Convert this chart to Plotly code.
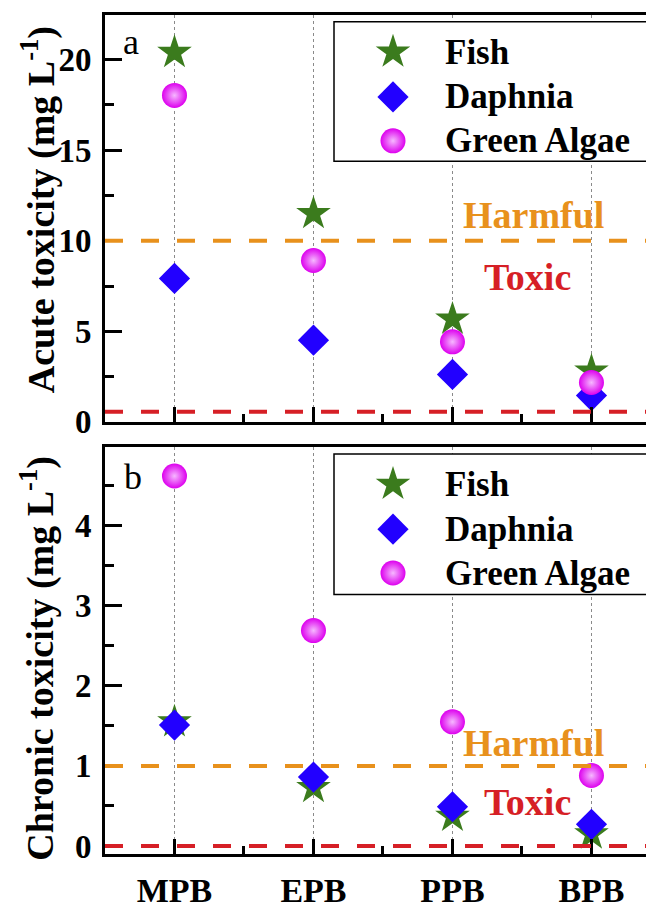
import plotly.graph_objects as go

# ---------------- data ----------------
CATEGORIES = ["MPB", "EPB", "PPB", "BPB"]
SERIES = ["Fish", "Daphnia", "Green Algae"]

FISH_ACUTE = [20.4, 11.5, 5.67, 2.8]
DAPHNIA_ACUTE = [7.92, 4.51, 2.62, 1.45]
ALGAE_ACUTE = [18.03, 8.91, 4.42, 2.17]

FISH_CHRONIC = [1.55, 0.73, 0.37, 0.15]
DAPHNIA_CHRONIC = [1.51, 0.86, 0.49, 0.27]
ALGAE_CHRONIC = [4.62, 2.69, 1.55, 0.88]

ACUTE_HARMFUL = 10.0
ACUTE_TOXIC = 0.55
CHRONIC_HARMFUL = 1.0
CHRONIC_TOXIC = 0.0

ACUTE_TICKS = [0, 5, 10, 15, 20]
CHRONIC_TICKS = [0, 1, 2, 3, 4]

# ---------------- styles ----------------
FONT = "Liberation Serif"
STYLE = {
    "Fish": dict(symbol="star", size=26, color="#3b7b1d"),
    "Daphnia": dict(symbol="diamond", size=24, color="#2200ff"),
    "Green Algae": dict(symbol="circle", size=25, color="#dd00ee"),
}
ORANGE = "#e8911c"
RED = "#d61f26"

# page is offset by the browser's default 8px body margin
OFF = 8
PAGE_W, PAGE_H = 654, 909
W, H = PAGE_W - OFF, PAGE_H - OFF
PLOT_L, PLOT_T, PLOT_B = 105, 15, 875          # page pixels
ML, MR, MT, MB = PLOT_L - OFF, 0, PLOT_T - OFF, PAGE_H - PLOT_B
PH = H - MT - MB
TOP_DOMAIN = [(PLOT_B - 432) / PH, 1.0]
BOT_DOMAIN = [0.0, (PLOT_B - 458) / PH]

x = list(range(len(CATEGORIES)))
fig = go.Figure()


def marker(name):
    s = STYLE[name]
    m = dict(symbol=s["symbol"], size=s["size"], color=s["color"], line=dict(width=0))
    if name == "Green Algae":
        m["gradient"] = dict(type="radial", color="#f6b8ff")
    return m


panels = [
    ("x", "y", {"Fish": FISH_ACUTE, "Daphnia": DAPHNIA_ACUTE, "Green Algae": ALGAE_ACUTE}),
    ("x2", "y2", {"Fish": FISH_CHRONIC, "Daphnia": DAPHNIA_CHRONIC, "Green Algae": ALGAE_CHRONIC}),
]
for xa, ya, vals in panels:
    for name in SERIES:
        fig.add_trace(go.Scatter(x=x, y=vals[name], mode="markers", name=name,
                                 marker=marker(name), xaxis=xa, yaxis=ya,
                                 showlegend=False, cliponaxis=False))

# ---------------- manual legends (page-pixel overlay axis) ----------------
LEG_BOXES = [(334, 22, 650, 165), (334, 465, 650, 609)]
ROW_OFFS = [31, 77, 122]
SYM_X, TXT_X = 393, 443
shapes = []
annotations = []
for (x0, y0, x1, y1) in LEG_BOXES:
    shapes.append(dict(type="rect", xref="x3", yref="y3", x0=x0, x1=x1, y0=y0, y1=y1,
                       line=dict(color="black", width=1.5), fillcolor="white", layer="below"))
    for name, off in zip(SERIES, ROW_OFFS):
        fig.add_trace(go.Scatter(x=[SYM_X], y=[y0 + off], mode="markers", marker=marker(name),
                                 xaxis="x3", yaxis="y3", showlegend=False, hoverinfo="skip",
                                 cliponaxis=False))
        annotations.append(dict(xref="x3", yref="y3", x=TXT_X, y=y0 + off, text=name,
                                showarrow=False, xanchor="left", yanchor="middle",
                                font=dict(family=FONT, size=35, color="black", weight="bold")))

# ---------------- threshold lines ----------------
for ya, harm, tox in [("y", ACUTE_HARMFUL, ACUTE_TOXIC), ("y2", CHRONIC_HARMFUL, CHRONIC_TOXIC)]:
    xa = "x" if ya == "y" else "x2"
    shapes.append(dict(type="line", xref=f"{xa} domain", yref=ya, x0=0, x1=1, y0=harm, y1=harm,
                       line=dict(color=ORANGE, width=4, dash="18px,18px")))
    shapes.append(dict(type="line", xref=f"{xa} domain", yref=ya, x0=0, x1=1, y0=tox, y1=tox,
                       line=dict(color=RED, width=4, dash="18px,18px")))

# ---------------- text labels ----------------
txt = [
    ("x domain", "y domain", 0.78, 0.508, "Harmful", ORANGE),
    ("x domain", "y domain", 0.77, 0.357, "Toxic", RED),
    ("x2 domain", "y2 domain", 0.78, 0.272, "Harmful", ORANGE),
    ("x2 domain", "y2 domain", 0.77, 0.128, "Toxic", RED),
]
for xr, yr, xx, yy, t, c in txt:
    annotations.append(dict(xref=xr, yref=yr, x=xx, y=yy, text=t, showarrow=False,
                            xanchor="center", yanchor="middle",
                            font=dict(family=FONT, size=38, color=c, weight="bold")))

annotations.append(dict(xref="x domain", yref="y domain", x=0.047, y=0.933, text="a",
                        showarrow=False, xanchor="center", yanchor="middle",
                        font=dict(family=FONT, size=36, color="black")))
annotations.append(dict(xref="x2 domain", yref="y2 domain", x=0.051, y=0.926, text="b",
                        showarrow=False, xanchor="center", yanchor="middle",
                        font=dict(family=FONT, size=36, color="black")))

TITLE_X = (38 - PLOT_L) / (W - ML - MR)
annotations.append(dict(xref="paper", yref="y domain", x=TITLE_X, y=0.52,
                        text="Acute toxicity (mg L<sup>-1</sup>)", textangle=-90, showarrow=False,
                        xanchor="center", yanchor="middle",
                        font=dict(family=FONT, size=38, color="black", weight="bold")))
annotations.append(dict(xref="paper", yref="y2 domain", x=TITLE_X, y=0.48,
                        text="Chronic toxicity (mg L<sup>-1</sup>)", textangle=-90, showarrow=False,
                        xanchor="center", yanchor="middle",
                        font=dict(family=FONT, size=38, color="black", weight="bold")))

# ---------------- axes ----------------
TICKFONT_Y = dict(family=FONT, size=33, color="black", weight="bold")
TICKFONT_X = dict(family=FONT, size=34, color="black", weight="bold")
xcommon = dict(range=[-0.5, 3.45], tickmode="array", tickvals=x, ticks="inside", ticklen=15,
               tickwidth=3, tickcolor="black", showline=True, linewidth=3, linecolor="black",
               mirror=True, showgrid=True, gridcolor="#8a8a8a", gridwidth=1, griddash="3px,3px",
               zeroline=False,
               minor=dict(tick0=0.5, dtick=1, ticks="inside", ticklen=8, tickwidth=3,
                          tickcolor="black", showgrid=False))
ycommon = dict(ticks="inside", ticklen=17, tickwidth=3, tickcolor="black", showline=True,
               linewidth=3, linecolor="black", showgrid=False, zeroline=False,
               ticklabelstandoff=4)

fig.update_layout(
    width=W, height=H,
    margin=dict(l=ML, r=MR, t=MT, b=MB),
    paper_bgcolor="white", plot_bgcolor="rgba(0,0,0,0)",
    showlegend=False,
    xaxis=dict(**xcommon, anchor="y", domain=[0, 1], showticklabels=False),
    yaxis=dict(**ycommon, anchor="x", domain=TOP_DOMAIN, range=[0, 22.47],
               tickmode="array", tickvals=ACUTE_TICKS, tickfont=TICKFONT_Y,
               minor=dict(dtick=2.5, tick0=0, ticks="inside", ticklen=9, tickwidth=3,
                          tickcolor="black", showgrid=False)),
    xaxis2=dict(**xcommon, anchor="y2", domain=[0, 1], ticktext=CATEGORIES,
                tickfont=TICKFONT_X, ticklabelstandoff=4),
    yaxis2=dict(**ycommon, anchor="x2", domain=BOT_DOMAIN, range=[-0.1, 4.98],
                tickmode="array", tickvals=CHRONIC_TICKS, tickfont=TICKFONT_Y,
                minor=dict(dtick=0.5, tick0=0, ticks="inside", ticklen=9, tickwidth=3,
                           tickcolor="black", showgrid=False)),
    xaxis3=dict(domain=[0, 1], range=[PLOT_L, PAGE_W], visible=False, anchor="y3",
                fixedrange=True),
    yaxis3=dict(domain=[0, 1], range=[PLOT_B, PLOT_T], visible=False, anchor="x3",
                fixedrange=True),
    shapes=shapes,
    annotations=annotations,
)

fig.write_html("out.html")
